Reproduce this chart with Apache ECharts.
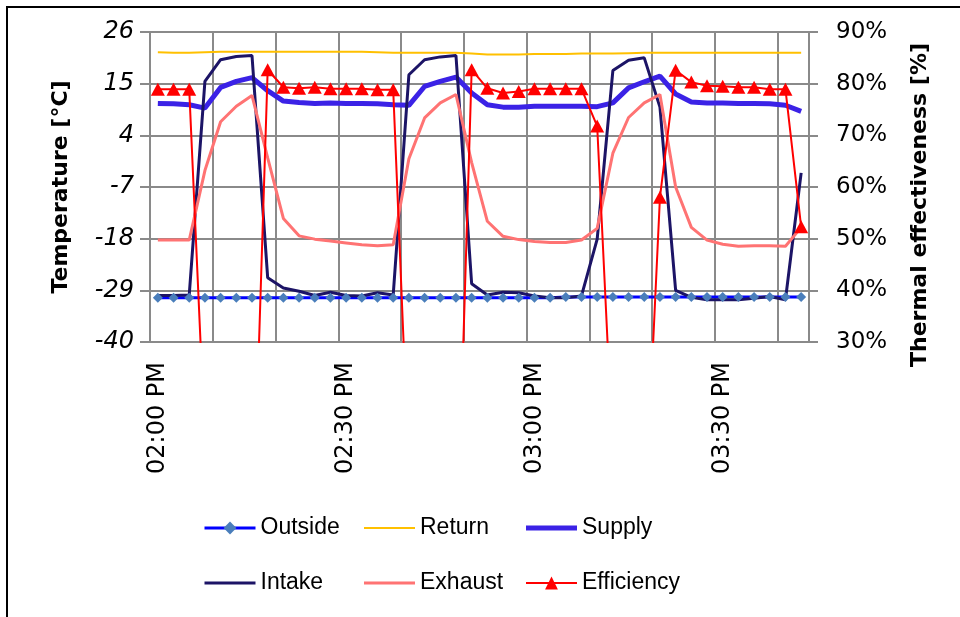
<!DOCTYPE html>
<html>
<head>
<meta charset="utf-8">
<script src="https://cdn.jsdelivr.net/npm/echarts@6/dist/echarts.min.js"></script>
<style>
html,body{margin:0;padding:0;background:#fff;}
#chart{width:960px;height:617px;}
</style>
</head>
<body>
<div id="chart"></div>
<script>
// ---- data ----
const times = [
  "02:00:00 PM","02:02:30 PM","02:05:00 PM","02:07:30 PM","02:10:00 PM","02:12:30 PM",
  "02:15:00 PM","02:17:30 PM","02:20:00 PM","02:22:30 PM","02:25:00 PM","02:27:30 PM",
  "02:30:00 PM","02:32:30 PM","02:35:00 PM","02:37:30 PM","02:40:00 PM","02:42:30 PM",
  "02:45:00 PM","02:47:30 PM","02:50:00 PM","02:52:30 PM","02:55:00 PM","02:57:30 PM",
  "03:00:00 PM","03:02:30 PM","03:05:00 PM","03:07:30 PM","03:10:00 PM","03:12:30 PM",
  "03:15:00 PM","03:17:30 PM","03:20:00 PM","03:22:30 PM","03:25:00 PM","03:27:30 PM",
  "03:30:00 PM","03:32:30 PM","03:35:00 PM","03:37:30 PM","03:40:00 PM","03:42:30 PM"
];
const outside = [
  -30.6,-30.6,-30.6,-30.6,-30.6,-30.6,-30.6,-30.6,-30.6,-30.6,-30.6,-30.6,
  -30.6,-30.6,-30.6,-30.6,-30.6,-30.6,-30.6,-30.6,-30.6,-30.6,-30.6,-30.6,
  -30.6,-30.6,-30.4,-30.4,-30.4,-30.4,-30.4,-30.4,-30.4,-30.4,-30.4,-30.4,
  -30.4,-30.4,-30.4,-30.4,-30.4,-30.4
];
const returnAir = [
  21.7,21.6,21.6,21.7,21.8,21.8,21.8,21.8,21.8,21.8,21.8,21.8,
  21.8,21.8,21.7,21.6,21.6,21.6,21.6,21.6,21.4,21.2,21.2,21.2,
  21.3,21.3,21.3,21.4,21.4,21.4,21.5,21.6,21.6,21.6,21.6,21.6,
  21.6,21.6,21.6,21.6,21.6,21.6
];
const supply = [
  10.8,10.7,10.5,9.8,14.2,15.5,16.3,13.5,11.3,11.0,10.8,10.9,
  10.8,10.8,10.7,10.5,10.4,14.4,15.5,16.4,13.0,10.5,10.0,10.0,
  10.2,10.2,10.2,10.2,10.1,10.9,14.1,15.4,16.6,12.8,11.1,10.9,
  10.9,10.8,10.8,10.7,10.4,9.1
];
const intake = [
  -30.1,-30.1,-30.0,15.5,20.1,20.8,21.0,-26.3,-28.5,-29.2,-30.1,-29.4,
  -30.1,-30.2,-29.5,-30.0,16.9,20.1,20.7,21.0,-27.6,-30.0,-29.4,-29.5,
  -30.2,-30.6,-30.6,-30.2,-18.1,17.8,20.0,20.5,10.0,-29.0,-30.5,-31.0,
  -31.0,-31.0,-30.7,-30.3,-31.0,-4.0
];
const exhaust = [
  -18.3,-18.3,-18.3,-3.5,6.9,10.2,12.5,-0.8,-13.7,-17.4,-18.1,-18.5,
  -18.9,-19.3,-19.5,-19.3,-1.0,7.7,10.9,12.7,-1.8,-14.3,-17.5,-18.2,
  -18.6,-18.8,-18.8,-18.3,-15.8,0.2,7.8,10.9,12.7,-7.0,-15.6,-18.3,
  -19.2,-19.6,-19.5,-19.5,-19.6,-15.6
];
const efficiency = [
  78.9,78.9,78.9,11,-20,-20,-13,82.7,79.3,79.1,79.3,79.0,
  79.0,79.0,78.8,78.8,5,-20,-20,-17,82.7,79.1,78.2,78.5,
  79.0,79.0,79.0,79.0,71.8,8.5,-20,-7,58.0,82.6,80.3,79.6,
  79.5,79.3,79.3,78.9,78.9,52.3
];
const tempTicks = {min: -40, max: 26, step: 11};
const effTicks = {min: 30, max: 90, step: 10};

// ---- chart ----
const chart = echarts.init(document.getElementById('chart'), null, {renderer: 'canvas'});
const gridColor = '#8a8a8a';
const IW = 51, IH = 16;
// legend icon: a horizontal bar of thickness t centred in an IW x IH box
function barIcon(t) {
  const a = (IH - t) / 2, b = (IH + t) / 2;
  return 'path://M0,0L0,0M' + IW + ',' + IH + 'L' + IW + ',' + IH +
         'M0,' + a + 'L' + IW + ',' + a + 'L' + IW + ',' + b + 'L0,' + b + 'Z';
}
const legendText = {fontFamily: 'Liberation Sans', fontSize: 23, color: '#000', lineHeight: 26};
const legendCommon = {
  orient: 'vertical', itemWidth: IW, itemHeight: IH, itemGap: 29,
  textStyle: legendText, padding: 0, selectedMode: false
};
chart.setOption({
  animation: false,
  backgroundColor: '#fff',
  graphic: [{
    type: 'rect', silent: true,
    shape: {x: 7, y: 7, width: 1000, height: 700},
    style: {fill: 'none', stroke: '#000', lineWidth: 2}
  }],
  grid: {left: 150, right: 151, top: 32, bottom: 275, containLabel: false},
  legend: [
    Object.assign({left: 203, top: 515, data: [
      {name: 'Outside', lineStyle: {width: 3, color: '#0000ff'}},
      {name: 'Intake', icon: barIcon(3), itemStyle: {borderWidth: 0}}
    ]}, legendCommon),
    Object.assign({left: 364, top: 515, data: [
      {name: 'Return', icon: barIcon(2), itemStyle: {borderWidth: 0}},
      {name: 'Exhaust', icon: barIcon(3), itemStyle: {borderWidth: 0}}
    ]}, legendCommon),
    Object.assign({left: 525, top: 515, data: [
      {name: 'Supply', icon: barIcon(5), itemStyle: {borderWidth: 0}},
      {name: 'Efficiency', lineStyle: {width: 2, color: '#ff0000'}}
    ]}, legendCommon)
  ],
  xAxis: {
    type: 'category',
    data: times,
    boundaryGap: true,
    axisLine: {show: true, onZero: false, lineStyle: {color: gridColor, width: 2}},
    axisTick: {show: false, interval: 3},
    splitLine: {show: true, interval: 3, lineStyle: {color: gridColor, width: 2}},
    axisLabel: {
      interval: 11, rotate: 90, margin: 20,
      fontFamily: 'DejaVu Sans', fontSize: 24, color: '#000',
      formatter: v => v.replace(/:\d\d (AM|PM)$/, ' $1')
    }
  },
  yAxis: [{
    type: 'value',
    min: tempTicks.min, max: tempTicks.max, interval: tempTicks.step,
    name: 'Temperature [°C]', nameLocation: 'middle', nameRotate: 90, nameGap: 78,
    nameTextStyle: {fontFamily: 'DejaVu Sans', fontWeight: 'bold', fontSize: 22, color: '#000'},
    axisLine: {show: true, lineStyle: {color: gridColor, width: 2}},
    axisTick: {show: true, length: 10, lineStyle: {color: gridColor, width: 2}},
    splitLine: {show: true, lineStyle: {color: gridColor, width: 2}},
    axisLabel: {margin: 16, fontFamily: 'DejaVu Sans', fontStyle: 'italic', fontSize: 24, color: '#000'}
  }, {
    type: 'value',
    min: effTicks.min, max: effTicks.max, interval: effTicks.step,
    name: 'Thermal effectiveness [%]', nameLocation: 'middle', nameRotate: 90, nameGap: 100,
    nameTextStyle: {fontFamily: 'DejaVu Sans', fontWeight: 'bold', fontSize: 22, color: '#000', padding: [0, 36, 0, 0]},
    axisLine: {show: true, lineStyle: {color: gridColor, width: 2}},
    axisTick: {show: true, length: 9, lineStyle: {color: gridColor, width: 2}},
    splitLine: {show: false},
    axisLabel: {margin: 27, fontFamily: 'DejaVu Sans', fontSize: 23, color: '#000', formatter: '{value}%'}
  }],
  series: [{
    name: 'Outside', type: 'line', data: outside, yAxisIndex: 0,
    symbol: 'diamond', symbolSize: 10, showAllSymbol: true,
    itemStyle: {color: '#4a7ebb'}, lineStyle: {color: '#0000ff', width: 3}
  }, {
    name: 'Return', type: 'line', data: returnAir, yAxisIndex: 0,
    symbol: 'none', itemStyle: {color: '#ffc000'}, lineStyle: {color: '#ffc000', width: 2}
  }, {
    name: 'Supply', type: 'line', data: supply, yAxisIndex: 0,
    symbol: 'none', itemStyle: {color: '#3b22e6'}, lineStyle: {color: '#3b22e6', width: 5}
  }, {
    name: 'Intake', type: 'line', data: intake, yAxisIndex: 0,
    symbol: 'none', itemStyle: {color: '#1c1466'}, lineStyle: {color: '#1c1466', width: 3}
  }, {
    name: 'Exhaust', type: 'line', data: exhaust, yAxisIndex: 0,
    symbol: 'none', itemStyle: {color: '#ff7373'}, lineStyle: {color: '#ff7373', width: 3}
  }, {
    name: 'Efficiency', type: 'line', data: efficiency, yAxisIndex: 1,
    symbol: 'triangle', symbolSize: [14, 13], showAllSymbol: true,
    itemStyle: {color: '#ff0000'}, lineStyle: {color: '#ff0000', width: 2}
  }]
});
</script>
</body>
</html>
